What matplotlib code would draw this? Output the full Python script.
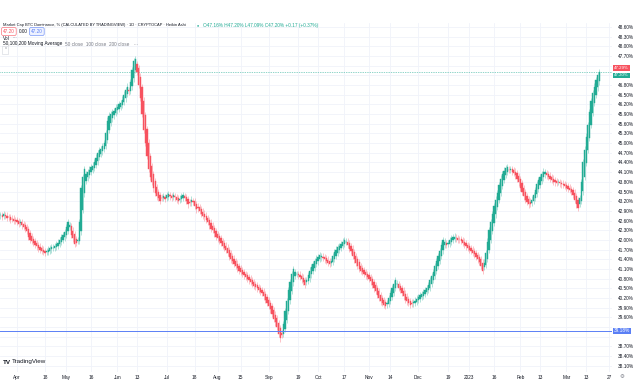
import numpy as np
import pandas as pd
import matplotlib
matplotlib.use("Agg")
import matplotlib.pyplot as plt
import matplotlib.dates as mdates
import matplotlib.transforms as mtransforms

# Daily Heikin Ashi closes, BTC dominance (%)
start_date = "2022-03-22"
closes = [
    42.76, 42.72, 42.80, 42.74, 42.68, 42.70, 42.62, 42.66, 42.58, 42.60,
    42.55, 42.50, 42.56, 42.45, 42.40, 42.35, 42.28, 42.10, 42.00, 41.96,
    41.90, 41.84, 41.80, 41.74, 41.70, 41.66, 41.62, 41.60, 41.65, 41.70,
    41.74, 41.78, 41.76, 41.82, 41.86, 41.92, 42.00, 42.08, 42.15, 42.25,
    42.40, 42.55, 42.45, 42.15, 42.05, 41.88, 41.90, 42.00, 42.55, 43.60,
    43.95, 44.20, 44.05, 44.10, 44.18, 44.25, 44.30, 44.40, 44.55, 44.70,
    44.78, 44.82, 44.90, 45.00, 45.30, 45.70, 45.85, 45.90, 45.95, 46.00,
    46.10, 46.12, 46.20, 46.25, 46.35, 46.50, 46.65, 46.75, 46.60, 46.90,
    47.25, 47.55, 47.60, 47.20, 46.80, 46.40, 45.90, 45.40, 45.00, 44.60,
    44.20, 43.95, 43.80, 43.60, 43.45, 43.35, 43.30, 43.22, 43.30, 43.35,
    43.28, 43.38, 43.42, 43.35, 43.30, 43.38, 43.32, 43.25, 43.20, 43.28,
    43.35, 43.40, 43.30, 43.20, 43.10, 43.15, 43.25, 43.18, 43.05, 42.95,
    42.98, 42.90, 42.80, 42.75, 42.70, 42.62, 42.55, 42.45, 42.35, 42.30,
    42.20, 42.10, 42.05, 41.98, 41.90, 41.82, 41.75, 41.70, 41.60, 41.48,
    41.40, 41.35, 41.25, 41.20, 41.12, 41.05, 41.00, 40.95, 40.90, 40.85,
    40.80, 40.75, 40.70, 40.65, 40.58, 40.55, 40.50, 40.45, 40.40, 40.35,
    40.25, 40.15, 40.05, 39.95, 39.85, 39.70, 39.55, 39.45, 39.30, 39.10,
    38.95, 39.05, 39.40, 39.80, 40.10, 40.45, 40.70, 40.95, 41.10, 41.00,
    40.95, 40.90, 40.85, 40.78, 40.70, 40.62, 40.75, 40.90, 41.05, 41.15,
    41.25, 41.35, 41.42, 41.48, 41.52, 41.50, 41.45, 41.40, 41.35, 41.30,
    41.25, 41.35, 41.50, 41.62, 41.70, 41.78, 41.82, 41.88, 41.95, 42.00,
    41.95, 41.85, 41.72, 41.65, 41.50, 41.40, 41.30, 41.20, 41.10, 41.05,
    41.00, 40.95, 40.90, 40.85, 40.80, 40.72, 40.60, 40.50, 40.42, 40.30,
    40.20, 40.10, 40.05, 40.00, 39.95, 40.05, 40.20, 40.35, 40.50, 40.65,
    40.75, 40.65, 40.52, 40.45, 40.35, 40.25, 40.15, 40.10, 40.05, 40.00,
    40.02, 40.08, 40.12, 40.18, 40.22, 40.28, 40.32, 40.38, 40.45, 40.52,
    40.60, 40.75, 40.88, 41.00, 41.20, 41.35, 41.50, 41.65, 41.85, 42.00,
    41.95, 41.85, 41.90, 42.00, 42.05, 42.08, 42.10, 42.05, 42.00, 42.02,
    41.98, 41.90, 41.85, 41.80, 41.75, 41.70, 41.65, 41.60, 41.55, 41.48,
    41.40, 41.32, 41.20, 41.05, 41.30, 41.60, 41.95, 42.30, 42.55, 42.80,
    43.05, 43.25, 43.45, 43.70, 43.90, 44.05, 44.15, 44.22, 44.25, 44.18,
    44.20, 44.12, 44.08, 44.00, 43.90, 43.78, 43.62, 43.48, 43.35, 43.25,
    43.18, 43.10, 43.12, 43.25, 43.40, 43.55, 43.72, 43.85, 43.95, 44.05,
    44.12, 44.10, 44.00, 43.95, 43.90, 43.85, 43.80, 43.78, 43.76, 43.80,
    43.75, 43.72, 43.70, 43.68, 43.62, 43.58, 43.55, 43.48, 43.40, 43.25,
    43.10, 43.00, 43.30, 43.80, 44.40, 44.80, 45.20, 45.55, 45.95, 46.30,
    46.55, 46.75, 46.95, 47.10, 47.20,
]

tick_dates = ["2022-04-01", "2022-04-18", "2022-05-01", "2022-05-16",
              "2022-06-01", "2022-06-13", "2022-07-01", "2022-07-18",
              "2022-08-01", "2022-08-15", "2022-09-01", "2022-09-19",
              "2022-10-01", "2022-10-17", "2022-11-01", "2022-11-14",
              "2022-12-01", "2022-12-19", "2023-01-01", "2023-01-16",
              "2023-02-01", "2023-02-13", "2023-03-01", "2023-03-13",
              "2023-03-27"]
tick_labels = ["Apr", "18", "May", "16", "Jun", "13", "Jul", "18", "Aug",
               "15", "Sep", "19", "Oct", "17", "Nov", "14", "Dec", "19",
               "2023", "16", "Feb", "13", "Mar", "13", "27"]

last_close = 47.20
axis_marker = 47.29
level_line = 39.18

GREEN = "#22ab94"
RED = "#f7525f"
BLUE = "#5a7ff5"
TXT = "#131722"
GRAY = "#787b86"
GRID = "#f0f3fa"

W, H = 637, 386


def fx(x):
    return x / W


def fy(y):
    return 1 - y / H


plt.rcParams["font.family"] = ["Liberation Sans", "DejaVu Sans"]

# Heikin Ashi opens from the closes
c = np.array(closes)
o = np.empty_like(c)
o[0] = c[0]
for i in range(1, len(c)):
    o[i] = (o[i - 1] + c[i - 1]) / 2
dates = pd.date_range(start_date, periods=len(c), freq="D")
x = mdates.date2num(dates)
up = c >= o
colors = np.where(up, GREEN, RED)
wick_pad = 0.1

fig = plt.figure(figsize=(W / 100, H / 100), dpi=100)
ax = fig.add_axes([0, fy(372), fx(612), fy(23) - fy(372)])

# Grid
for d in tick_dates:
    ax.axvline(mdates.date2num(pd.Timestamp(d)), color=GRID, lw=0.6, zorder=0)
yticks = np.arange(38.1, 48.7, 0.3)
for v in yticks:
    ax.axhline(v, color=GRID, lw=0.6, zorder=0)

# Candles
lo = np.minimum(o, c)
hi = np.maximum(o, c)
ax.vlines(x, lo - wick_pad, hi + wick_pad, colors=colors, lw=0.6,
          alpha=0.4, zorder=2)
ax.bar(x, hi - lo, bottom=lo, width=0.75, color=colors, edgecolor=colors,
       linewidth=0.3, zorder=3)

# Horizontal price lines
ax.axhline(last_close, color=GREEN, lw=0.5, ls=(0, (1, 1.5)), zorder=1)
ax.axhline(level_line, color=BLUE, lw=0.7, zorder=4)

ax.set_xlim(x[0] - 0.3, x[0] + 371.7)
ax.set_ylim(37.91, 48.72)
ax.set_xticks([mdates.date2num(pd.Timestamp(d)) for d in tick_dates])
ax.set_xticklabels(tick_labels)
ax.set_yticks(yticks)
# price labels hidden where the axis badges sit, as on the platform
ylabels = []
for v in yticks:
    if abs(v - last_close) < 0.3 or abs(v - level_line) < 0.2:
        ylabels.append("")
    else:
        ylabels.append("%.2f%%" % v)
ax.set_yticklabels(ylabels)
ax.yaxis.tick_right()
ax.tick_params(axis="both", length=0, labelsize=3.4, labelcolor=TXT, pad=2)
ax.tick_params(axis="y", pad=4)
for s in ax.spines.values():
    s.set_visible(False)

# Price axis labels
trans = mtransforms.blended_transform_factory(ax.transAxes, ax.transData)
ax.annotate("%.2f%%" % level_line, (1.0, level_line), xycoords=trans,
            xytext=(1.5, 0), textcoords="offset points", fontsize=3.4,
            color="white", va="center", ha="left", annotation_clip=False,
            bbox=dict(boxstyle="square,pad=0.2", fc=BLUE, ec="none"))
ax.annotate("%.2f%%" % axis_marker, (1.0, last_close), xycoords=trans,
            xytext=(1.5, 3.0), textcoords="offset points", fontsize=3.2,
            color="white", va="center", ha="left", annotation_clip=False,
            bbox=dict(boxstyle="square,pad=0.15", fc=RED, ec="none"))
ax.annotate("%.2f%%" % last_close, (1.0, last_close), xycoords=trans,
            xytext=(1.5, -2.3), textcoords="offset points", fontsize=3.2,
            color="white", va="center", ha="left", annotation_clip=False,
            bbox=dict(boxstyle="square,pad=0.15", fc=GREEN, ec="none"))

# Header
fig.text(fx(3), fy(25), "Market Cap BTC Dominance, % (CALCULATED BY "
         "TRADINGVIEW) · 1D · CRYPTOCAP · Heikin Ashi",
         fontsize=2.85, color=TXT, va="center")
fig.text(fx(197), fy(25), "●", fontsize=2.6, color=GREEN, va="center")
fig.text(fx(203), fy(25), "O47.16% H47.20% L47.09% C47.20% +0.17 (+0.37%)",
         fontsize=3.4, color=GREEN, va="center")
fig.text(fx(3), fy(31.5), "47.20", fontsize=3.4, color=RED, va="center",
         bbox=dict(boxstyle="round,pad=0.3", fc="white", ec=RED, lw=0.4))
fig.text(fx(19), fy(31.5), "0.00", fontsize=3.4, color=TXT, va="center")
fig.text(fx(31), fy(31.5), "47.20", fontsize=3.4, color=BLUE, va="center",
         bbox=dict(boxstyle="round,pad=0.3", fc="#eef2ff", ec=BLUE, lw=0.4))
fig.text(fx(3), fy(38), "Vol", fontsize=3.4, color=TXT, va="center")
fig.text(fx(12), fy(38), "···", fontsize=3.4, color=GRAY, va="center")
fig.text(fx(3), fy(44), "50,100,200 Moving Average", fontsize=3.4,
         color=TXT, va="center")
fig.text(fx(65), fy(44), "50 close  100 close  200 close   ···",
         fontsize=3.4, color=GRAY, va="center")
fig.text(fx(3), fy(50), "⌃", fontsize=3.4, color=GRAY, va="center",
         bbox=dict(boxstyle="square,pad=0.3", fc="white", ec="#d1d4dc",
                   lw=0.4))

# Logo and gear
fig.text(fx(3), fy(362), "TV", fontsize=4.5, color=TXT, va="center",
         fontweight="bold")
fig.text(fx(12), fy(362), "TradingView", fontsize=4.5, color=TXT,
         va="center")
fig.text(fx(622), fy(376), "⚙", fontsize=4, color=GRAY, va="center",
         ha="center", family=["DejaVu Sans"])

fig.savefig("out.png", dpi=100, facecolor="white")
